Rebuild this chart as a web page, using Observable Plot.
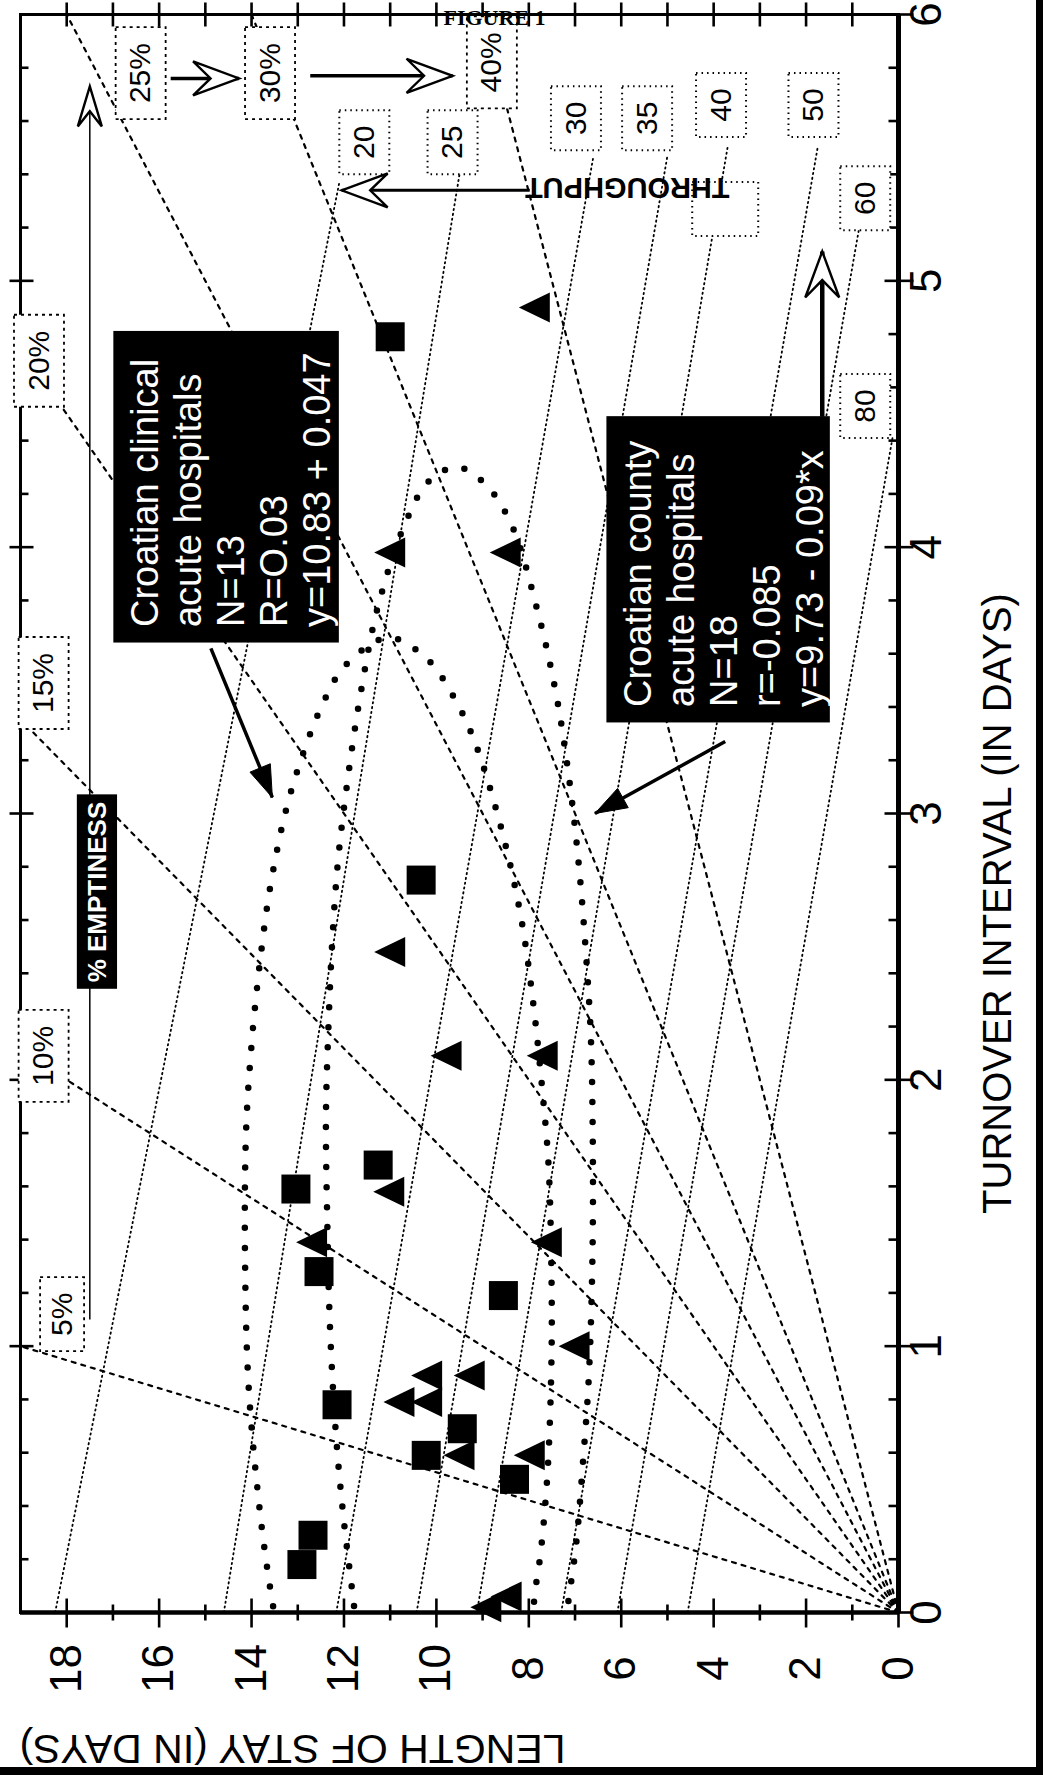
<!DOCTYPE html>
<html>
<head>
<meta charset="utf-8">
<script src="https://cdn.jsdelivr.net/npm/d3@7"></script>
<script src="https://cdn.jsdelivr.net/npm/@observablehq/plot@0.6"></script>
<style>
  html, body { margin: 0; padding: 0; background: #fff; }
  #chart { position: relative; width: 1043px; height: 1775px; overflow: hidden; background: #fff; }
  #chart svg { display: block; }
  .edge-r { position: absolute; top: 0; right: 0; width: 7px; height: 1775px; background: #000; }
  .edge-b { position: absolute; left: 0; bottom: 0; width: 1043px; height: 8px; background: #000; }
</style>
</head>
<body>
<div id="chart"><div class="edge-r"></div><div class="edge-b"></div></div>
<script>
// ================= DATA =================
const stayDomain = [0, 19];          // length of stay (days)
const turnoverDomain = [0, 6];       // turnover interval (days)
const stayTickLabels = [0, 2, 4, 6, 8, 10, 12, 14, 16, 18];
const turnoverTickLabels = [0, 1, 2, 3, 4, 5, 6];

// Croatian clinical acute hospitals (squares)
const clinicalTurnover = [4.79, 2.75, 1.68, 1.59, 1.19, 1.28, 0.78, 0.69, 0.59, 0.50, 0.29, 0.18];
const clinicalStay     = [11.0, 10.33, 11.26, 13.04, 8.55, 12.54, 12.15, 9.44, 10.22, 8.31, 12.67, 12.91];

// Croatian county acute hospitals (triangles)
const countyTurnover = [4.90, 3.98, 3.98, 2.48, 2.09, 2.09, 1.58, 1.39, 1.39, 1.00, 0.89, 0.89, 0.79, 0.79, 0.59, 0.59, 0.06, 0.02];
const countyStay     = [7.87, 11.0, 8.5, 11.0, 9.78, 7.7, 11.02, 12.69, 7.61, 7.01, 10.2, 9.28, 10.8, 10.2, 9.5, 7.98, 8.48, 8.92];

// dotted envelopes
const clinicalRingStay     = [13.45, 13.54, 13.80, 14.06, 14.14, 14.12, 14.01, 13.82, 13.56, 13.15, 12.49, 11.95, 11.04, 10.20, 9.57, 9.15, 8.59, 8.18, 7.92, 7.68, 7.57, 7.51, 7.51, 7.59, 7.74, 7.87, 7.93];
const clinicalRingTurnover = [-0.05, 0.03, 0.35, 0.84, 1.31, 1.80, 2.11, 2.44, 2.76, 3.08, 3.40, 3.56, 3.66, 3.58, 3.42, 3.26, 2.94, 2.62, 2.31, 1.91, 1.67, 1.27, 0.95, 0.54, 0.23, 0.07, -0.05];
const countyRingStay     = [11.74, 11.78, 12.0, 12.17, 12.30, 12.36, 12.39, 12.34, 12.26, 12.13, 11.91, 11.63, 11.26, 10.65, 10.15, 9.54, 8.96, 8.39, 7.81, 7.40, 7.12, 6.92, 6.77, 6.66, 6.62, 6.62, 6.70, 6.83, 6.98, 7.16, 7.2];
const countyRingTurnover = [-0.05, 0.02, 0.34, 0.66, 1.06, 1.46, 1.86, 2.18, 2.50, 2.82, 3.14, 3.46, 3.78, 4.10, 4.25, 4.30, 4.24, 4.09, 3.76, 3.44, 3.12, 2.81, 2.49, 2.17, 1.85, 1.37, 0.89, 0.56, 0.25, 0.02, -0.05];

// % emptiness isolines and their labels
const emptinessPct = [5, 10, 15, 20, 25, 30, 40];
const emptinessLabelStay     = [18.1, 18.5, 18.5, 18.6, 16.4, 13.6, 8.8];
const emptinessLabelTurnover = [1.12, 2.09, 3.49, 4.70, 5.78, 5.78, 5.82];

// throughput isolines (discharges per bed per year): line top ends and labels as read
const throughputN = [20, 25, 30, 35, 40, 50, 60, 80];
const throughputTopStay = [12.1, 9.5, 6.6, 5.0, 3.7, 1.75, 0.85, 0.12];
const throughputTopTurn = [5.37, 5.40, 5.47, 5.47, 5.50, 5.50, 5.20, 4.42];
const throughputLabelStay     = [11.56, 9.65, 6.98, 5.44, 3.84, 1.84, 0.72, 0.72];
const throughputLabelTurnover = [5.52, 5.52, 5.61, 5.61, 5.66, 5.66, 5.31, 4.53];

// annotations
const noteText = [
  "Croatian clinical\nacute hospitals\nN=13\nR=O.03\ny=10.83 + 0.047",
  "Croatian county\nacute hospitals\nN=18\nr=-0.085\ny=9.73 - 0.09*x"
];
const noteStayLeft = [16.98, 6.31], noteStayRight = [12.10, 1.475];
const noteTurnBottom = [3.64, 3.34], noteTurnTop = [4.81, 4.49];
const pointerStayFrom = [14.88, 3.75], pointerStayTo = [13.55, 6.57];
const pointerTurnFrom = [3.62, 3.27], pointerTurnTo = [3.06, 3.00];

const emptinessTag = "% EMPTINESS";
const emptinessTagStay = [17.77, 16.9], emptinessTagTurn = [2.34, 3.07];
const throughputTag = "THROUGHPUT";
const throughputTagStay = 5.87, throughputTagTurn = 5.35;
const throughputBlankBoxStay = 3.75, throughputBlankBoxTurn = 5.27;

// hollow-headed guide arrows: from -> to
const guideStayFrom = [17.5, 15.75, 12.73, 7.98, 1.65];
const guideStayTo   = [17.5, 14.27, 9.65, 12.05, 1.65];
const guideTurnFrom = [1.10, 5.76, 5.77, 5.34, 4.49];
const guideTurnTo   = [5.73, 5.76, 5.77, 5.34, 5.11];
const guideWeight   = [1.5, 3.5, 3.5, 3, 4.5];

// ================= LAYOUT =================
const W = 1043, H = 1775;
const mL = 20, mR = 145, mT = 14, mB = 163;
const pxS = (W - mL - mR) / (stayDomain[1] - stayDomain[0]);
const pxT = (H - mT - mB) / (turnoverDomain[1] - turnoverDomain[0]);
const FONT = "Arial, 'Liberation Sans', Helvetica, sans-serif";

function heading(s1, t1, s2, t2) {
  const dx = -(s2 - s1) * pxS, dy = -(t2 - t1) * pxT;
  return Math.atan2(dx, -dy);
}
function polySymbol(pts, theta = 0) {
  const c = Math.cos(theta), s = Math.sin(theta);
  const rp = pts.map(([x, y]) => [x * c - y * s, x * s + y * c]);
  return {draw(ctx) { ctx.moveTo(rp[0][0], rp[0][1]); for (let i = 1; i < rp.length; i++) ctx.lineTo(rp[i][0], rp[i][1]); ctx.closePath(); }};
}
const rectSymbol = (w, h) => polySymbol([[-w/2, -h/2], [w/2, -h/2], [w/2, h/2], [-w/2, h/2]]);
const segSymbol = (x1, y1, x2, y2) => ({draw(ctx) { ctx.moveTo(x1, y1); ctx.lineTo(x2, y2); }});
const openHead = (theta, w, L) => polySymbol([[0, 0], [w/2, L], [0, L * 0.62], [-w/2, L]], theta);
const solidHead = (theta, w, L) => polySymbol([[0, 0], [w/2, L], [-w/2, L]], theta);

// derived tables
const clinical = clinicalStay.map((s, i) => ({s, t: clinicalTurnover[i]}));
const county = countyStay.map((s, i) => ({s, t: countyTurnover[i]}));
const clinicalRing = clinicalRingStay.map((s, i) => ({s, t: clinicalRingTurnover[i]}));
const countyRing = countyRingStay.map((s, i) => ({s, t: countyRingTurnover[i]}));
const emptinessLines = emptinessPct.flatMap(p => {
  const k = (100 - p) / p;
  return [{p, s: 0, t: 0}, {p, s: k * turnoverDomain[1], t: turnoverDomain[1]}];
});
const throughputLines = throughputN.flatMap((n, i) => [
  {n, s: 365 / n, t: 0},
  {n, s: throughputTopStay[i], t: throughputTopTurn[i]}
]);
const emptinessLabels = emptinessPct.map((p, i) => ({p, s: emptinessLabelStay[i], t: emptinessLabelTurnover[i]}));
const throughputLabels = throughputN.map((n, i) => ({n, s: throughputLabelStay[i], t: throughputLabelTurnover[i]}));

const stayTicks = d3.range(stayDomain[0], stayDomain[1]);
const turnTicks = d3.range(0, 31).map(i => i / 5);
const isMajorS = d => d % 2 === 0;
const isMajorT = d => Math.abs(d - Math.round(d)) < 1e-6;

const tickMark = (data, opts, sym) => Plot.dot(data, {...opts, symbol: sym, fill: "none", stroke: "black", strokeWidth: 2.6});
const centered = {textAnchor: "middle", lineAnchor: "middle"};

const marks = [
  // frame + axes lines
  Plot.frame({stroke: "black", strokeWidth: 3}),
  Plot.ruleY([turnoverDomain[0]], {stroke: "black", strokeWidth: 4.5}),
  Plot.ruleX([stayDomain[0]], {stroke: "black", strokeWidth: 5}),
  // ticks: bottom (stay axis)
  tickMark(stayTicks.filter(isMajorS), {x: d => d, y: () => turnoverDomain[0]}, segSymbol(0, -14, 0, 15)),
  tickMark(stayTicks.filter(d => !isMajorS(d)), {x: d => d, y: () => turnoverDomain[0]}, segSymbol(0, -8, 0, 8)),
  // ticks: top frame
  tickMark(stayTicks.filter(d => d > 0), {x: d => d, y: () => turnoverDomain[1]}, segSymbol(0, -12, 0, 12)),
  // ticks: right (turnover axis)
  tickMark(turnTicks.filter(isMajorT), {x: () => stayDomain[0], y: d => d}, segSymbol(-14, 0, 15, 0)),
  tickMark(turnTicks.filter(d => !isMajorT(d)), {x: () => stayDomain[0], y: d => d}, segSymbol(-10, 0, 0, 0)),
  // ticks: left frame
  tickMark(turnTicks.filter(d => isMajorT(d) && d > 0 && d < 6), {x: () => stayDomain[1], y: d => d}, segSymbol(-11, 0, 13, 0)),
  tickMark(turnTicks.filter(d => !isMajorT(d)), {x: () => stayDomain[1], y: d => d}, segSymbol(0, 0, 8, 0)),

  // isolines
  Plot.line(emptinessLines, {x: "s", y: "t", z: "p", stroke: "black", strokeWidth: 2.2, strokeDasharray: "4,6", clip: true}),
  Plot.line(throughputLines, {x: "s", y: "t", z: "n", stroke: "black", strokeWidth: 1.8, strokeDasharray: "1.3,3.6", clip: true}),

  // envelopes (big dots)
  Plot.line(clinicalRing, {x: "s", y: "t", curve: "catmull-rom", stroke: "black", strokeWidth: 6.5, strokeDasharray: "0,20", strokeLinecap: "round", clip: true}),
  Plot.line(countyRing, {x: "s", y: "t", curve: "catmull-rom", stroke: "black", strokeWidth: 6.5, strokeDasharray: "0,20", strokeLinecap: "round", clip: true}),

  // isoline labels
  Plot.dot(emptinessLabels.filter(d => d.p < 10), {x: "s", y: "t", symbol: rectSymbol(44, 74), fill: "white", stroke: "black", strokeWidth: 1.8, strokeDasharray: "3,4"}),
  Plot.dot(emptinessLabels.filter(d => d.p >= 10), {x: "s", y: "t", symbol: rectSymbol(50, 92), fill: "white", stroke: "black", strokeWidth: 1.8, strokeDasharray: "3,4"}),
  Plot.text(emptinessLabels, {x: "s", y: "t", text: d => `${d.p}%`, rotate: -90, fontSize: 30, fontFamily: FONT, fill: "black"}),
  Plot.dot([{s: throughputBlankBoxStay, t: throughputBlankBoxTurn}], {x: "s", y: "t", symbol: rectSymbol(66, 54), fill: "white", stroke: "black", strokeWidth: 2, strokeDasharray: "1.5,4"}),
  Plot.dot(throughputLabels, {x: "s", y: "t", symbol: rectSymbol(50, 64), fill: "white", stroke: "black", strokeWidth: 2, strokeDasharray: "1.5,4"}),
  Plot.text(throughputLabels, {x: "s", y: "t", text: d => `${d.n}`, rotate: -90, fontSize: 30, fontFamily: FONT, fill: "black"}),

  // hospitals
  Plot.dot(clinical, {x: "s", y: "t", symbol: rectSymbol(29, 29), fill: "black", stroke: "none"}),
  Plot.dot(county, {x: "s", y: "t", symbol: polySymbol([[-16, 0], [15, -15], [15, 15]]), fill: "black", stroke: "none"}),

  // % emptiness tag
  Plot.link([0], {x1: () => guideStayFrom[0], y1: () => guideTurnFrom[0], x2: () => guideStayTo[0], y2: () => guideTurnTo[0], stroke: "black", strokeWidth: guideWeight[0]}),
  Plot.rect([0], {x1: () => emptinessTagStay[0], x2: () => emptinessTagStay[1], y1: () => emptinessTagTurn[0], y2: () => emptinessTagTurn[1], fill: "black"}),
  Plot.text([emptinessTag], {x: () => (emptinessTagStay[0] + emptinessTagStay[1]) / 2, y: () => (emptinessTagTurn[0] + emptinessTagTurn[1]) / 2, text: d => d, rotate: -90, fill: "white", fontSize: 26, fontWeight: "bold", fontFamily: "'Liberation Sans Narrow', 'Arial Narrow', " + FONT}),

  // other guide arrows
  ...guideStayFrom.slice(1).map((_, j) => {
    const i = j + 1;
    return Plot.link([0], {x1: () => guideStayFrom[i], y1: () => guideTurnFrom[i], x2: () => guideStayTo[i], y2: () => guideTurnTo[i], stroke: "black", strokeWidth: guideWeight[i]});
  }),
  ...guideStayFrom.map((_, i) => {
    const th = heading(guideStayFrom[i], guideTurnFrom[i], guideStayTo[i], guideTurnTo[i]);
    const sym = i === 0 ? openHead(th, 24, 40) : openHead(th, 34, 46);
    return Plot.dot([0], {x: () => guideStayTo[i], y: () => guideTurnTo[i], symbol: sym, fill: "white", stroke: "black", strokeWidth: 2.4});
  }),

  // throughput tag
  Plot.text([throughputTag], {x: () => throughputTagStay, y: () => throughputTagTurn, text: d => d, rotate: 180, fontSize: 29, fontWeight: "bold", fontFamily: FONT, fill: "black"}),

  // annotation boxes
  Plot.rect(noteText, {x1: (d, i) => noteStayLeft[i], x2: (d, i) => noteStayRight[i], y1: (d, i) => noteTurnBottom[i], y2: (d, i) => noteTurnTop[i], fill: "black"}),
  Plot.text(noteText, {x: (d, i) => noteStayLeft[i], y: (d, i) => noteTurnBottom[i], text: d => d, dx: 14, dy: -16, rotate: -90, textAnchor: "start", lineAnchor: "top", lineHeight: 1.13, fontSize: 38, fontFamily: FONT, fill: "white"}),
  Plot.link(noteText, {x1: (d, i) => pointerStayFrom[i], y1: (d, i) => pointerTurnFrom[i], x2: (d, i) => pointerStayTo[i], y2: (d, i) => pointerTurnTo[i], stroke: "black", strokeWidth: 3.5}),
  ...noteText.map((_, i) => Plot.dot([0], {x: () => pointerStayTo[i], y: () => pointerTurnTo[i],
      symbol: solidHead(heading(pointerStayFrom[i], pointerTurnFrom[i], pointerStayTo[i], pointerTurnTo[i]), 22, 32), fill: "black", stroke: "black", strokeWidth: 1})),

  // tick labels
  Plot.text(stayTickLabels, {x: d => d, frameAnchor: "bottom", dy: 56, ...centered, text: d => `${d}`, rotate: -90, fontSize: 44, fontFamily: FONT, fill: "black"}),
  Plot.text(turnoverTickLabels, {y: d => d, frameAnchor: "right", dx: 28, ...centered, text: d => `${d}`, rotate: -90, fontSize: 44, fontFamily: FONT, fill: "black"}),

  // axis titles
  Plot.text(["TURNOVER INTERVAL (IN DAYS)"], {frameAnchor: "right", dx: 100, dy: 90, ...centered, text: d => d, rotate: -90, fontSize: 40, fontFamily: FONT, fill: "black"}),
  Plot.text(["LENGTH OF STAY (IN DAYS)"], {frameAnchor: "bottom", dx: -167, dy: 136, ...centered, text: d => d, rotate: 180, fontSize: 41, fontFamily: FONT, fill: "black"}),
  Plot.text(["FIGURE 1"], {frameAnchor: "top", dx: 35, dy: 3, ...centered, text: d => d, fontSize: 22, fontWeight: "bold", fontFamily: "'Liberation Serif', 'Times New Roman', serif", fill: "black"})
];

const chart = Plot.plot({
  width: W, height: H,
  marginLeft: mL, marginRight: mR, marginTop: mT, marginBottom: mB,
  x: {domain: stayDomain, reverse: true, axis: null},
  y: {domain: turnoverDomain, axis: null},
  style: {fontFamily: FONT, background: "transparent", color: "black"},
  marks
});
document.getElementById("chart").prepend(chart);
</script>
</body>
</html>
